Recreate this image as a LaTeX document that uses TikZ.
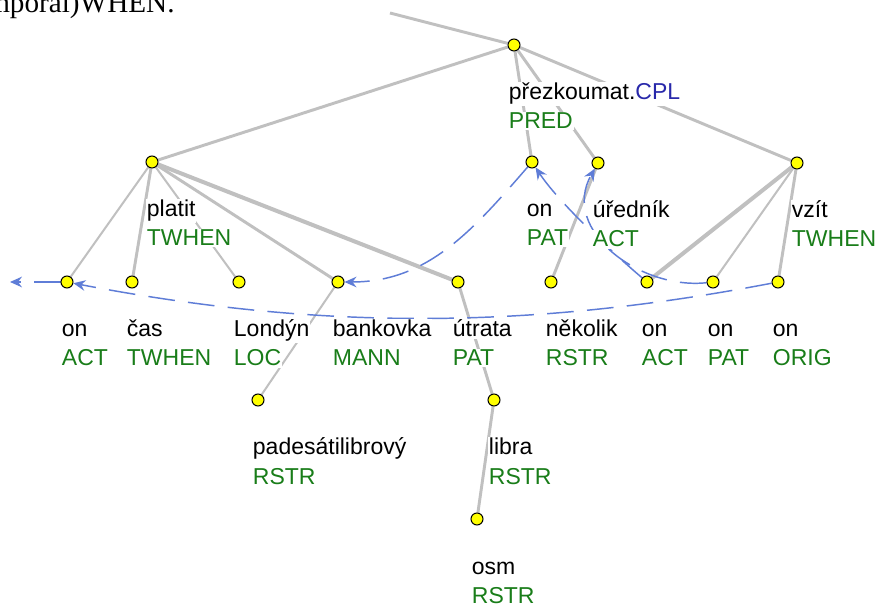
\documentclass[tikz,border=0pt]{standalone}
\usepackage{fontspec}
\setmainfont{Liberation Sans}
\newfontfamily\headserif{Liberation Serif}
\usetikzlibrary{arrows.meta}

\definecolor{edgegray}{RGB}{192,192,192}
\definecolor{corefblue}{RGB}{95,125,215}
\definecolor{functor}{RGB}{25,125,25}
\definecolor{cplblue}{RGB}{40,40,170}
\definecolor{dotyellow}{RGB}{255,255,0}

\pgfdeclarelayer{paper}
\pgfdeclarelayer{lines}
\pgfsetlayers{paper,lines,main}

\newcommand\tlfont{\fontsize{17.25pt}{21pt}\selectfont}

\tikzset{
  tnode/.style={circle, fill=dotyellow, draw=black, line width=0.75pt,
                minimum size=9pt, inner sep=0pt},
  edgethin/.style={draw=edgegray, line width=1.5pt},
  edgemid/.style={draw=edgegray, line width=2.2pt},
  edgethick/.style={draw=edgegray, line width=3pt},
  coref/.style={draw=corefblue, line width=1.1pt, dash pattern=on 20pt off 10pt,
                -{Stealth[length=9pt,width=8pt,inset=3pt]}},
  lemma/.style={anchor=base west, fill=white, inner xsep=0.5pt, inner ysep=1pt,
                text=black, font=\tlfont},
  func/.style={lemma, text=functor},
}

% two-line label (lemma, functor) below a tree node
\newcommand\treelabel[3]{%
  \path (#1) ++(-6,55) node[lemma] (#1-lemma) {#2}
             ++(0,29)  node[func]  (#1-func)  {#3};}

\begin{document}
\begin{tikzpicture}[x=0.75pt, y=-0.75pt]
  \begin{pgfonlayer}{paper}
    \fill[white] (0,0) rectangle (878,605);
  \end{pgfonlayer}
  \useasboundingbox (0,0) rectangle (878,605);
  \clip (0,0) rectangle (878,605);

  % tail of the running text above the tree
  \node[anchor=base west, inner sep=0pt,
        font=\headserif\fontsize{21.9pt}{24pt}\selectfont] (header) at (-13,13) {mporal)WHEN.};

  % tree nodes
  \coordinate (up) at (390,13);
  \node[tnode] (root)     at (514,45)  {};
  \node[tnode] (platit)   at (152,162) {};
  \node[tnode] (onpat1)   at (532,162) {};
  \node[tnode] (urednik)  at (598,163) {};
  \node[tnode] (vzit)     at (797,163) {};
  \node[tnode] (onact1)   at (67,282)  {};
  \node[tnode] (cas)      at (132,282) {};
  \node[tnode] (londyn)   at (239,282) {};
  \node[tnode] (bankovka) at (338,282) {};
  \node[tnode] (utrata)   at (458,282) {};
  \node[tnode] (nekolik)  at (551,282) {};
  \node[tnode] (onact2)   at (647,282) {};
  \node[tnode] (onpat2)   at (713,282) {};
  \node[tnode] (onorig)   at (778,282) {};
  \node[tnode] (padesati) at (258,400) {};
  \node[tnode] (libra)    at (494,400) {};
  \node[tnode] (osm)      at (477,519) {};
  \coordinate (offleft) at (10,282);

  % labels
  \treelabel{root}{přezkoumat.\textcolor{cplblue}{CPL}}{PRED}
  \treelabel{platit}{platit}{TWHEN}
  \treelabel{onpat1}{on}{PAT}
  \treelabel{urednik}{úředník}{ACT}
  \treelabel{vzit}{vzít}{TWHEN}
  \treelabel{onact1}{on}{ACT}
  \treelabel{cas}{čas}{TWHEN}
  \treelabel{londyn}{Londýn}{LOC}
  \treelabel{bankovka}{bankovka}{MANN}
  \treelabel{utrata}{útrata}{PAT}
  \treelabel{nekolik}{několik}{RSTR}
  \treelabel{onact2}{on}{ACT}
  \treelabel{onpat2}{on}{PAT}
  \treelabel{onorig}{on}{ORIG}
  \treelabel{padesati}{padesátilibrový}{RSTR}
  \treelabel{libra}{libra}{RSTR}
  \treelabel{osm}{osm}{RSTR}

  \begin{pgfonlayer}{lines}
    % dependency edges
    \draw[edgemid]   (up) -- (root);
    \draw[edgemid]   (root) -- (platit);
    \draw[edgemid]   (root) -- (onpat1);
    \draw[edgemid]   (root) -- (urednik);
    \draw[edgemid]   (root) -- (vzit);
    \draw[edgethin]  (platit) -- (onact1);
    \draw[edgemid]   (platit) -- (cas);
    \draw[edgethin]  (platit) -- (londyn);
    \draw[edgemid]   (platit) -- (bankovka);
    \draw[edgethick] (platit) -- (utrata);
    \draw[edgemid]   (urednik) -- (nekolik);
    \draw[edgethick] (vzit) -- (onact2);
    \draw[edgethin]  (vzit) -- (onpat2);
    \draw[edgemid]   (vzit) -- (onorig);
    \draw[edgethin]  (bankovka) -- (padesati);
    \draw[edgemid]   (utrata) -- (libra);
    \draw[edgemid]   (libra) -- (osm);

    % coreference arrows
    \draw[coref] (onact1) -- (offleft);
    \draw[coref] (onorig) .. controls (528,330) and (317,330) .. (onact1);
    \draw[coref] (onpat1) .. controls (473,230) and (428,282) .. (bankovka);
    \draw[coref] (onact2) .. controls (607,248) and (557,200) .. (onpat1);
    \draw[coref] (onpat2) .. controls (640,290) and (560,230) .. (urednik);
  \end{pgfonlayer}
\end{tikzpicture}
\end{document}
